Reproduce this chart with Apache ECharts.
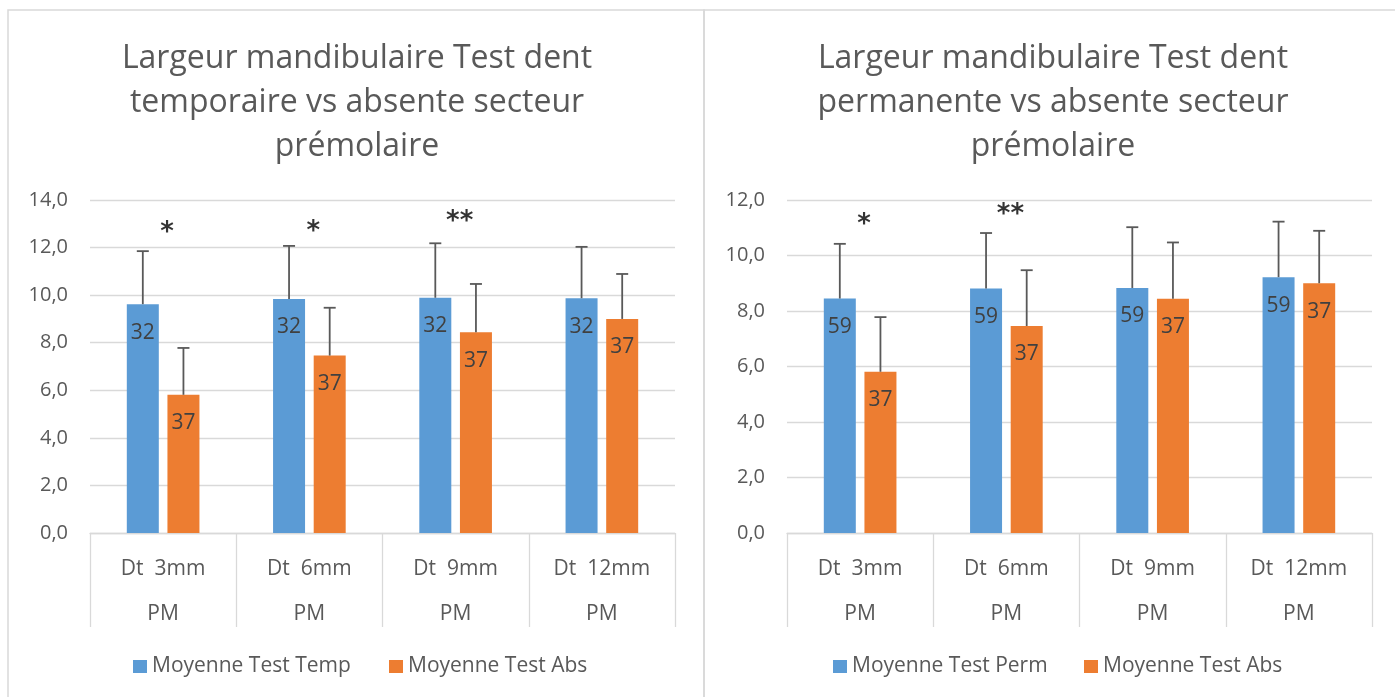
<!doctype html>
<html>
<head>
  <meta charset="UTF-8" />
  <title>Largeur mandibulaire</title>
  <script src="https://cdn.jsdelivr.net/npm/echarts@6/dist/echarts.min.js"></script>
  <style>
    html, body { margin: 0; padding: 0; background: #ffffff; }
    #chart { width: 1395px; height: 697px; }
  </style>
</head>
<body>
  <div id="chart"></div>
  <script>
    // données
    const categories = ["Dt  3mm", "Dt  6mm", "Dt  9mm", "Dt  12mm"];
    const subCategory = "PM";

    const tempMean = [9.62, 9.84, 9.89, 9.87];
    const tempSd = [2.23, 2.23, 2.29, 2.16];
    const permMean = [8.45, 8.81, 8.83, 9.22];
    const permSd = [1.97, 2.0, 2.19, 2.0];
    const absMean = [5.81, 7.46, 8.44, 9.0];
    const absSd = [1.97, 2.01, 2.03, 1.89];

    const nTemp = 32;
    const nPerm = 59;
    const nAbs = 37;

    const starsLeft = ["*", "*", "**", ""];
    const starsLeftY = [12.6, 12.65, 13.05, null];
    const starsRight = ["*", "**", "", ""];
    const starsRightY = [11.1, 11.45, null, null];

    const titleLeft = ["Largeur mandibulaire Test dent", "temporaire vs absente secteur", "prémolaire"];
    const titleRight = ["Largeur mandibulaire Test dent", "permanente vs absente secteur", "prémolaire"];

    const yMaxLeft = 14;
    const yMaxRight = 12;

    const FONT = "'Open Sans', sans-serif";
    const GREY = "#595959";
    const LINE = "#d9d9d9";
    const BLUE = "#5b9bd5";
    const ORANGE = "#ed7d31";
    const BAR_W = 32;
    const BAR_GAP = 0.27;
    const barOffset = (BAR_W + BAR_W * BAR_GAP) / 2;

    const chart = echarts.init(document.getElementById("chart"));

    const grids = [
      { left: 90, top: 200, width: 585, height: 333 },
      { left: 787, top: 200, width: 585, height: 333 },
    ];

    const makeX = (idx) => ({
      type: "category",
      gridIndex: idx,
      data: categories,
      boundaryGap: true,
      axisLine: { lineStyle: { color: LINE, width: 1.3 } },
      axisTick: { show: true, interval: 0, length: 94, lineStyle: { color: LINE, width: 1.3 } },
      axisLabel: {
        interval: 0,
        margin: 14,
        color: GREY,
        fontFamily: FONT,
        fontSize: 21,
        lineHeight: 45,
        formatter: (v) => v + "\n" + subCategory,
      },
    });

    const makeY = (idx, max) => ({
      type: "value",
      gridIndex: idx,
      min: 0,
      max: max,
      interval: 2,
      axisLine: { show: false },
      axisTick: { show: false },
      splitLine: { lineStyle: { color: LINE, width: 1.3 } },
      axisLabel: {
        margin: 22,
        color: GREY,
        fontFamily: FONT,
        fontSize: 20,
        formatter: (v) => v.toFixed(1).replace(".", ","),
      },
    });

    const barSeries = (name, idx, values, n, color) => ({
      name: name,
      type: "bar",
      xAxisIndex: idx,
      yAxisIndex: idx,
      data: values,
      barWidth: BAR_W,
      barGap: BAR_GAP * 100 + "%",
      itemStyle: { color: color },
      label: {
        show: true,
        position: "insideTop",
        distance: 18,
        formatter: () => String(n),
        color: "#404040",
        fontFamily: FONT,
        fontSize: 21,
      },
    });

    const errSeries = (idx, means, sds, side) => ({
      type: "custom",
      xAxisIndex: idx,
      yAxisIndex: idx,
      z: 5,
      silent: true,
      data: means.map((m, i) => [i, m, sds[i]]),
      encode: { x: 0, y: 1 },
      renderItem: (params, api) => {
        const base = api.coord([api.value(0), api.value(1)]);
        const top = api.coord([api.value(0), api.value(1) + api.value(2)]);
        const x = base[0] + side * barOffset;
        const st = { stroke: GREY, lineWidth: 1.8 };
        return {
          type: "group",
          children: [
            { type: "line", shape: { x1: x, y1: base[1], x2: x, y2: top[1] }, style: st },
            { type: "line", shape: { x1: x - 6, y1: top[1], x2: x + 6, y2: top[1] }, style: st },
          ],
        };
      },
    });

    const starSeries = (idx, marks, ys) => ({
      type: "scatter",
      xAxisIndex: idx,
      yAxisIndex: idx,
      symbolSize: 1,
      itemStyle: { color: "transparent" },
      silent: true,
      z: 6,
      data: marks
        .map((s, i) => (s ? { name: s, value: [i, ys[i]] } : null))
        .filter((d) => d),
      label: {
        show: true,
        position: "inside",
        offset: [4, 0],
        formatter: (p) => p.name,
        color: "#000000",
        fontFamily: "'DejaVu Sans', sans-serif",
        fontWeight: "bold",
        fontSize: 26,
      },
    });

    const legendItem = (name, left) => ({
      data: [name],
      left: left,
      top: 656,
      padding: 0,
      itemWidth: 14,
      itemHeight: 13,
      icon: "rect",
      selectedMode: false,
      textStyle: { color: GREY, fontFamily: FONT, fontSize: 21 },
    });

    const titleText = (lines, cx) => ({
      type: "text",
      x: cx,
      y: 37,
      style: {
        text: lines.join("\n"),
        fill: GREY,
        font: "32px " + FONT,
        lineHeight: 44,
        align: "center",
        textAlign: "center",
      },
    });

    const option = {
      animation: false,
      grid: grids,
      xAxis: [makeX(0), makeX(1)],
      yAxis: [makeY(0, yMaxLeft), makeY(1, yMaxRight)],
      legend: [
        legendItem("Moyenne Test Temp", 133),
        legendItem("Moyenne Test Abs", 389),
        legendItem("Moyenne Test Perm", 833),
        legendItem("Moyenne Test Abs", 1084),
      ],
      graphic: [
        { type: "rect", shape: { x: 8, y: 10, width: 696, height: 700 }, style: { fill: "none", stroke: LINE, lineWidth: 1.5 } },
        { type: "rect", shape: { x: 704, y: 10, width: 700, height: 700 }, style: { fill: "none", stroke: LINE, lineWidth: 1.5 } },
        titleText(titleLeft, 357),
        titleText(titleRight, 1053),
      ],
      series: [
        barSeries("Moyenne Test Temp", 0, tempMean, nTemp, BLUE),
        barSeries("Moyenne Test Abs", 0, absMean, nAbs, ORANGE),
        errSeries(0, tempMean, tempSd, -1),
        errSeries(0, absMean, absSd, 1),
        starSeries(0, starsLeft, starsLeftY),
        barSeries("Moyenne Test Perm", 1, permMean, nPerm, BLUE),
        barSeries("Moyenne Test Abs", 1, absMean, nAbs, ORANGE),
        errSeries(1, permMean, permSd, -1),
        errSeries(1, absMean, absSd, 1),
        starSeries(1, starsRight, starsRightY),
      ],
    };

    chart.setOption(option);
    window.addEventListener("resize", () => chart.resize());
  </script>
</body>
</html>
